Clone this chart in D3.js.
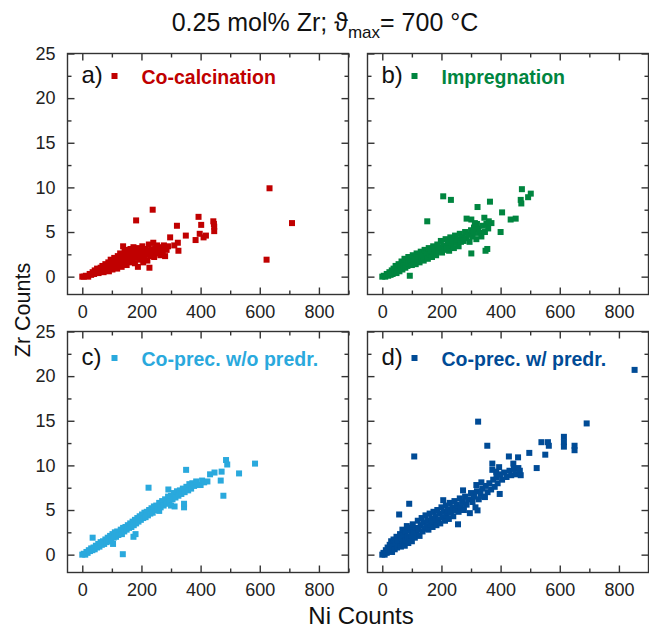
<!doctype html>
<html lang="en">
<head>
  <meta charset="utf-8">
  <script src="https://d3js.org/d3.v7.min.js"></script>
  <title>Zr vs Ni counts</title>
  <style type="text/css">
    html, body { margin: 0; padding: 0; background: #fff; }
    svg { display: block; font-family: "Liberation Sans", Arial, sans-serif; }
    .frame { fill: none; stroke: #333; stroke-width: 1.4; }
    .axis path { display: none; }
    .axis line { stroke: #333; stroke-width: 1.4; }
    .axis text { font-size: 18px; fill: #222; font-family: "Liberation Sans", Arial, sans-serif; }
  </style>
</head>
<body>
<script>
  // [Ni counts, Zr counts], one array per panel
  var coCalcination = [
    [0,0],[5,0],[12,0.1],[20,0],[25,0.3],[30,0.2],[35,0.5],[40,0.3],[42,0.7],[48,0.5],[50,0.9],[55,0.4],
    [58,0.8],[62,1.0],[65,0.6],[68,1.2],[72,0.5],[75,0.9],[78,1.4],[80,0.7],[84,1.1],[88,1.6],[90,0.6],
    [93,1.0],[96,1.9],[100,1.3],[102,0.8],[105,1.6],[108,2.1],[110,1.0],[113,1.4],[116,1.8],[118,0.9],
    [120,2.3],[123,1.2],[126,1.6],[128,2.6],[130,1.9],[133,1.1],[136,2.2],[138,3.4],[140,1.5],[143,2.8],
    [146,1.8],[148,2.3],[150,1.3],[152,3.0],[155,2.0],[158,2.6],[160,1.6],[163,3.1],[166,2.2],[168,1.8],
    [170,2.8],[173,3.3],[175,2.4],[178,1.5],[180,3.0],[183,2.1],[185,2.6],[188,1.1],[190,3.2],[193,2.4],
    [196,1.9],[198,2.9],[200,2.2],[203,3.4],[206,1.6],[208,2.7],[211,2.0],[214,3.1],[217,2.5],[220,1.8],
    [222,2.9],[225,3.6],[227,1.0],[230,2.3],[233,3.0],[236,2.7],[240,3.8],[243,2.2],[246,3.2],[250,2.6],
    [253,3.5],[257,2.9],[260,3.3],[264,2.4],[268,3.1],[272,2.6],[276,3.5],[280,2.3],[285,3.0],[290,3.4],
    [182,6.3],[238,7.5],[297,4.4],[311,3.5],[320,5.7],[323,3.8],[325,2.9],[350,4.6],[383,4.1],[393,6.7],
    [397,4.8],[402,5.8],[410,4.4],[418,4.6],[443,6.2],[445,5.9],[446,5.6],[446,5.1],[623,1.9],[633,9.9],
    [709,6.0]
  ];
  var impregnation = [
    [0,0],[5,0.1],[10,0],[15,0.3],[20,0.1],[24,0.5],[28,0.2],[32,0.7],[35,0.3],[38,0.9],[42,0.5],[45,1.2],
    [48,0.4],[52,0.8],[55,1.4],[58,0.6],[62,1.1],[65,1.7],[68,0.8],[72,1.3],[75,2.0],[78,1.0],[82,1.6],
    [85,1.2],[88,2.2],[90,1.5],[96,1.8],[100,1.3],[103,2.4],[106,1.7],[110,2.0],[113,1.4],[116,2.6],
    [120,1.9],[123,2.2],[126,1.6],[130,2.8],[133,2.1],[136,2.4],[140,1.8],[143,3.0],[146,2.3],[150,2.6],
    [154,2.0],[157,3.2],[160,2.5],[164,2.9],[168,2.2],[172,3.4],[175,2.7],[178,3.1],[182,2.4],[186,3.6],
    [190,2.9],[194,3.3],[198,4.0],[202,2.7],[206,3.5],[210,3.0],[214,4.2],[218,3.3],[222,3.8],[226,2.9],
    [230,4.4],[234,3.5],[238,4.0],[242,3.2],[246,4.6],[250,3.8],[254,4.2],[258,3.4],[262,4.8],[266,3.9],
    [270,4.4],[275,4.0],[280,5.0],[285,4.3],[290,4.7],[295,3.9],[300,5.2],[305,4.5],[310,4.9],[318,4.2],
    [325,5.4],[310,5.5],[320,5.9],[340,5.7],[352,5.9],[360,6.2],[345,6.6],
    [93,0.1],[152,6.2],[206,9.0],[232,8.6],[285,6.5],[301,6.4],[313,6.0],[301,2.6],[322,7.8],[330,4.9],
    [335,4.5],[347,5.0],[349,2.9],[355,3.1],[358,5.4],[364,8.4],[369,6.0],[400,5.0],[405,7.2],[434,6.4],
    [451,6.5],[468,8.6],[470,8.2],[472,9.8],[493,8.9],[502,9.3]
  ];
  var coPrecNoPredr = [
    [0,0],[5,0.1],[10,0],[14,0.3],[18,0.2],[22,0.5],[26,0.4],[30,0.7],[34,0.5],[35,1.9],[38,0.8],[42,0.6],
    [46,1.0],[50,0.8],[54,1.2],[58,0.9],[62,1.4],[66,1.1],[70,1.5],[74,1.2],[78,1.7],[82,1.4],[86,1.9],
    [90,1.5],[94,2.1],[98,1.7],[102,2.3],[104,1.2],[106,1.9],[110,2.5],[114,2.0],[118,2.6],[122,2.2],
    [126,2.4],[130,2.8],[134,2.3],[137,0.05],[138,3.0],[142,2.6],[146,3.1],[150,2.8],[154,3.3],[158,3.0],
    [162,3.5],[166,3.1],[170,3.7],[173,2.0],[174,3.3],[178,3.9],[180,2.3],[182,3.5],[186,4.1],[190,3.7],
    [194,4.3],[198,3.9],[202,4.5],[206,4.1],[210,4.7],[214,4.2],[218,4.8],[222,4.4],[224,7.5],[226,5.0],
    [230,4.6],[234,5.2],[238,4.7],[242,5.4],[246,5.0],[250,5.5],[255,5.1],[260,5.8],[260,4.9],[265,5.3],
    [270,6.0],[275,5.5],[280,6.2],[285,5.7],[290,6.5],[291,7.3],[295,6.0],[300,6.6],[300,5.5],[305,6.2],
    [310,6.9],[312,5.4],[315,6.4],[320,7.1],[325,6.6],[330,7.2],[335,6.8],[340,7.4],[344,5.3],[344,5.7],
    [346,7.0],[351,9.5],[352,7.6],[358,7.2],[362,7.9],[368,7.4],[372,8.0],[378,7.7],[385,8.2],[392,7.8],
    [400,7.8],[405,8.3],[412,8.1],[423,8.2],[432,9.0],[447,9.2],[468,8.3],[471,9.3],[477,6.6],[486,10.6],
    [490,10.1],[530,9.1],[584,10.2]
  ];
  var coPrecPredr = [
    [0,0],[4,0.2],[8,0],[12,0.5],[15,0.2],[18,0.8],[22,0.4],[25,1.1],[28,0.6],[30,1.5],[33,0.3],[36,0.9],
    [38,1.7],[42,0.6],[45,1.3],[48,2.0],[50,0.8],[53,1.6],[56,1.1],[57,4.5],[60,2.3],[63,0.9],[66,1.8],
    [68,2.8],[70,1.3],[73,2.1],[76,1.0],[78,2.6],[80,1.6],[83,3.2],[86,2.0],[88,1.3],[90,2.7],[91,5.7],
    [93,1.8],[96,3.0],[98,2.2],[100,1.5],[103,3.4],[106,2.5],[108,11.0],[110,1.9],[113,3.0],[116,2.4],
    [120,3.8],[123,2.8],[126,2.1],[130,3.3],[133,4.1],[136,2.6],[140,3.6],[143,2.9],[146,4.4],[150,3.2],
    [153,3.8],[156,2.8],[160,4.6],[163,3.4],[166,4.0],[170,3.1],[173,4.8],[176,3.7],[180,4.3],[183,3.3],
    [186,5.0],[190,3.9],[193,4.6],[196,3.5],[200,5.3],[203,4.2],[206,6.1],[208,4.8],[212,3.8],[215,5.5],
    [218,4.4],[222,5.0],[225,4.0],[228,5.8],[232,4.7],[236,5.3],[240,4.3],[244,6.0],[248,5.0],[252,5.6],
    [256,3.4],[258,4.8],[262,6.3],[266,5.3],[270,5.9],[273,7.2],[276,5.0],[280,6.5],[285,5.6],[290,6.2],
    [296,4.65],[300,6.9],[305,5.9],[310,6.5],[315,5.3],[318,7.8],[320,7.1],[322,4.96],[324,14.9],[326,6.2],
    [332,6.8],[335,8.1],[338,7.4],[344,6.5],[347,6.45],[350,7.7],[355,12.2],[356,7.0],[362,8.0],[368,7.3],
    [372,10.2],[372,9.5],[375,8.4],[380,7.6],[385,9.3],[386,8.7],[390,8.0],[395,9.8],[397,6.8],[398,9.0],
    [405,8.4],[412,9.2],[420,8.7],[428,11.0],[430,9.4],[436,8.9],[443,10.2],[445,9.6],[452,9.0],[459,10.9],
    [460,9.7],[465,9.4],[468,8.9],[497,11.4],[522,9.7],[538,12.6],[551,11.2],[560,12.6],[563,12.2],
    [614,13.2],[614,12.6],[614,12.1],[650,12.2],[650,11.7],[691,14.7],[853,20.7]
  ];

  var xMajor = [0, 200, 400, 600, 800];
  var xMinor = [100, 300, 500, 700, 900];
  var yMajor = [0, 5, 10, 15, 20, 25];
  var yMinor = [2.5, 7.5, 12.5, 17.5, 22.5];

  var panels = [
    { tag: "a)", name: "Co-calcination",      color: "#c00000", data: coCalcination, left: 67.5,  top: 53.5,  legendY: 29, yLabels: true },
    { tag: "b)", name: "Impregnation",        color: "#00853f", data: impregnation,  left: 367.5, top: 53.5,  legendY: 29, yLabels: false },
    { tag: "c)", name: "Co-prec. w/o predr.", color: "#2aa9dd", data: coPrecNoPredr, left: 67.5,  top: 331.5, legendY: 33, yLabels: true },
    { tag: "d)", name: "Co-prec. w/ predr.",  color: "#004b96", data: coPrecPredr,   left: 367.5, top: 331.5, legendY: 33, yLabels: false }
  ];

  var W = 649, H = 628;
  var pw = 281, ph = 241;

  var svg = d3.select("body").append("svg")
    .attr("width", W)
    .attr("height", H);

  panels.forEach(function(p) {
    var x = d3.scaleLinear().domain([-50, 900]).range([0, pw]);
    var y = d3.scaleLinear().domain([-2, 25]).range([ph, 0]);

    var g = svg.append("g")
      .attr("transform", "translate(" + p.left + "," + p.top + ")");

    // points first so the frame sits on top
    g.append("g")
      .selectAll("rect")
      .data(p.data)
      .enter()
      .append("rect")
      .attr("x", function(d) { return x(d[0]) - 3; })
      .attr("y", function(d) { return y(d[1]) - 3; })
      .attr("width", 6)
      .attr("height", 6)
      .style("fill", p.color);

    // inward ticks on all four sides
    g.append("g").attr("class", "axis").attr("transform", "translate(0," + ph + ")")
      .call(d3.axisBottom(x).tickValues(xMajor).tickSize(-7).tickPadding(11).tickFormat(d3.format("d")));
    g.append("g").attr("class", "axis").attr("transform", "translate(0," + ph + ")")
      .call(d3.axisBottom(x).tickValues(xMinor).tickSize(-4).tickFormat(""));
    g.append("g").attr("class", "axis")
      .call(d3.axisTop(x).tickValues(xMajor).tickSize(-7).tickFormat(""));
    g.append("g").attr("class", "axis")
      .call(d3.axisTop(x).tickValues(xMinor).tickSize(-4).tickFormat(""));

    g.append("g").attr("class", "axis")
      .call(d3.axisLeft(y).tickValues(yMajor).tickSize(-7).tickPadding(12)
        .tickFormat(p.yLabels ? d3.format("d") : ""));
    g.append("g").attr("class", "axis")
      .call(d3.axisLeft(y).tickValues(yMinor).tickSize(-4).tickFormat(""));
    g.append("g").attr("class", "axis").attr("transform", "translate(" + pw + ",0)")
      .call(d3.axisRight(y).tickValues(yMajor).tickSize(-7).tickFormat(""));
    g.append("g").attr("class", "axis").attr("transform", "translate(" + pw + ",0)")
      .call(d3.axisRight(y).tickValues(yMinor).tickSize(-4).tickFormat(""));

    g.append("rect")
      .attr("class", "frame")
      .attr("width", pw)
      .attr("height", ph);

    // legend
    g.append("text")
      .attr("x", 14)
      .attr("y", p.legendY)
      .style("font-size", "24px")
      .style("fill", "#111")
      .text(p.tag);
    g.append("rect")
      .attr("x", 44)
      .attr("y", p.legendY - 9.5)
      .attr("width", 6)
      .attr("height", 6)
      .style("fill", p.color);
    g.append("text")
      .attr("x", 74)
      .attr("y", p.legendY + 1)
      .style("font-size", "19.5px")
      .style("font-weight", "bold")
      .style("fill", p.color)
      .text(p.name);
  });

  // title
  var title = svg.append("text")
    .attr("x", 325)
    .attr("y", 31)
    .attr("text-anchor", "middle")
    .style("font-size", "25px")
    .style("fill", "#111");
  title.append("tspan").text("0.25 mol% Zr; \u03d1");
  title.append("tspan").attr("dy", 7).style("font-size", "17px").text("max");
  title.append("tspan").attr("dy", -7).text("= 700 \u00b0C");

  // axis titles
  svg.append("text")
    .attr("x", 361)
    .attr("y", 624)
    .attr("text-anchor", "middle")
    .style("font-size", "24px")
    .style("fill", "#111")
    .text("Ni Counts");

  svg.append("text")
    .attr("transform", "translate(30,310) rotate(-90)")
    .attr("text-anchor", "middle")
    .style("font-size", "21.5px")
    .style("fill", "#111")
    .text("Zr Counts");
</script>
</body>
</html>
